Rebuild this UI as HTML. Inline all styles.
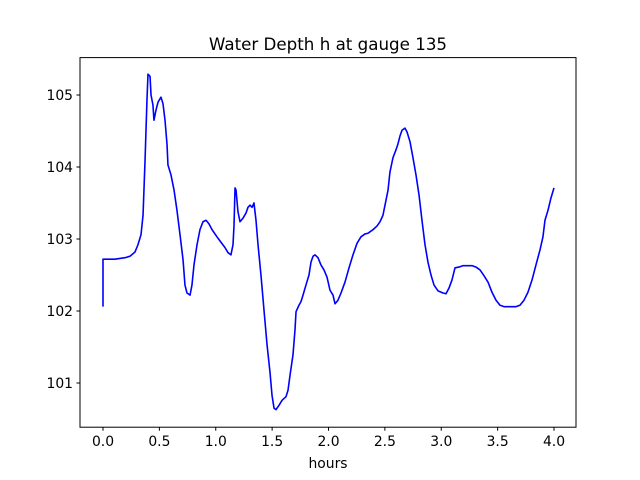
<!DOCTYPE html>
<html><head><meta charset="utf-8"><style>
html,body{margin:0;padding:0;background:#fff;}
svg{display:block;font-family:"DejaVu Sans","Liberation Sans",sans-serif;}
</style></head><body>
<svg id="chart" width="640" height="480" viewBox="0 0 640 480">
<rect x="0" y="0" width="640" height="480" fill="#fff"/>
<text x="328" y="50" text-anchor="middle" font-size="16.7" fill="#000">Water Depth h at gauge 135</text>
<text x="328" y="468" text-anchor="middle" font-size="13.9" fill="#000">hours</text>
<g id="ticks"></g>
<path id="series" fill="none" stroke="#0000ff" stroke-width="1.6" stroke-linejoin="round"/>
<rect x="80" y="57.6" width="496" height="369.6" fill="none" stroke="#000" stroke-width="1"/>
</svg>
<script>
const hours = [0,0,0.106,0.195,0.239,0.284,0.310,0.337,0.355,0.373,0.390,0.399,0.417,0.426,0.443,0.452,0.470,0.488,0.514,0.532,0.550,0.568,0.576,0.603,0.630,0.656,0.683,0.710,0.727,0.745,0.772,0.789,0.807,0.834,0.860,0.887,0.914,0.940,0.967,1.020,1.082,1.109,1.135,1.153,1.162,1.171,1.180,1.197,1.215,1.242,1.268,1.286,1.304,1.322,1.339,1.357,1.375,1.401,1.428,1.455,1.481,1.499,1.517,1.534,1.561,1.588,1.623,1.641,1.659,1.685,1.703,1.712,1.738,1.756,1.774,1.800,1.827,1.845,1.863,1.880,1.907,1.933,1.960,1.987,2.013,2.040,2.058,2.084,2.111,2.146,2.182,2.217,2.253,2.288,2.324,2.350,2.368,2.395,2.430,2.457,2.483,2.501,2.528,2.545,2.572,2.599,2.616,2.634,2.652,2.678,2.696,2.723,2.749,2.776,2.803,2.829,2.856,2.882,2.909,2.936,2.971,3.016,3.042,3.069,3.095,3.122,3.157,3.193,3.237,3.273,3.308,3.344,3.379,3.415,3.450,3.486,3.521,3.557,3.610,3.636,3.663,3.698,3.734,3.769,3.805,3.840,3.876,3.902,3.920,3.947,3.973,4.0];
const depth = [102.06,102.72,102.72,102.74,102.76,102.82,102.92,103.06,103.33,104.10,104.93,105.29,105.26,105.0,104.86,104.65,104.79,104.90,104.97,104.88,104.65,104.31,104.03,103.89,103.68,103.40,103.06,102.71,102.36,102.25,102.22,102.36,102.64,102.92,103.13,103.24,103.26,103.21,103.13,103.01,102.88,102.81,102.78,102.92,103.19,103.71,103.68,103.38,103.24,103.29,103.36,103.44,103.47,103.44,103.50,103.26,102.92,102.50,102.01,101.53,101.15,100.83,100.65,100.63,100.69,100.76,100.81,100.90,101.11,101.39,101.74,101.99,102.08,102.13,102.22,102.36,102.50,102.68,102.76,102.78,102.74,102.64,102.57,102.47,102.29,102.22,102.10,102.15,102.25,102.40,102.60,102.78,102.94,103.03,103.07,103.08,103.10,103.13,103.18,103.24,103.33,103.47,103.68,103.93,104.13,104.24,104.32,104.43,104.51,104.54,104.49,104.35,104.13,103.89,103.61,103.26,102.92,102.68,102.50,102.36,102.28,102.25,102.24,102.32,102.43,102.60,102.61,102.63,102.63,102.63,102.61,102.57,102.49,102.40,102.26,102.15,102.08,102.06,102.06,102.06,102.06,102.08,102.15,102.26,102.43,102.64,102.85,103.03,103.26,103.40,103.57,103.71];
const xTicks = [0,0.5,1.0,1.5,2.0,2.5,3.0,3.5,4.0];
const xTickLabels = ["0.0","0.5","1.0","1.5","2.0","2.5","3.0","3.5","4.0"];
const yTicks = [101,102,103,104,105];
const yTickLabels = ["101","102","103","104","105"];

function xs(h){return 103 + h*112.75;}
function ys(v){return 95 + (105 - v)*72;}
const NS="http://www.w3.org/2000/svg";
const g=document.getElementById('ticks');
xTicks.forEach((t,i)=>{
  const l=document.createElementNS(NS,'line');
  l.setAttribute('x1',xs(t));l.setAttribute('x2',xs(t));l.setAttribute('y1',427.2);l.setAttribute('y2',430.7);l.setAttribute('stroke','#000');
  
  
  g.appendChild(l);
  const tx=document.createElementNS(NS,'text');
  tx.setAttribute('x',xs(t));tx.setAttribute('y',446);tx.setAttribute('text-anchor','middle');tx.setAttribute('font-size','13.9');
  tx.textContent=xTickLabels[i];
  
  
  g.appendChild(tx);
});
yTicks.forEach((t,i)=>{
  const l=document.createElementNS(NS,'line');
  l.setAttribute('x1',76.5);l.setAttribute('x2',80);l.setAttribute('y1',ys(t));l.setAttribute('y2',ys(t));l.setAttribute('stroke','#000');
  
  
  g.appendChild(l);
  const tx=document.createElementNS(NS,'text');
  tx.setAttribute('x',73);tx.setAttribute('y',ys(t)+5);tx.setAttribute('text-anchor','end');tx.setAttribute('font-size','13.9');
  tx.textContent=yTickLabels[i];
  
  
  g.appendChild(tx);
});
let d='';
hours.forEach((h,i)=>{d+=(i?'L':'M')+xs(h).toFixed(2)+' '+ys(depth[i]).toFixed(2);});
document.getElementById('series').setAttribute('d',d);
</script>
</body></html>
